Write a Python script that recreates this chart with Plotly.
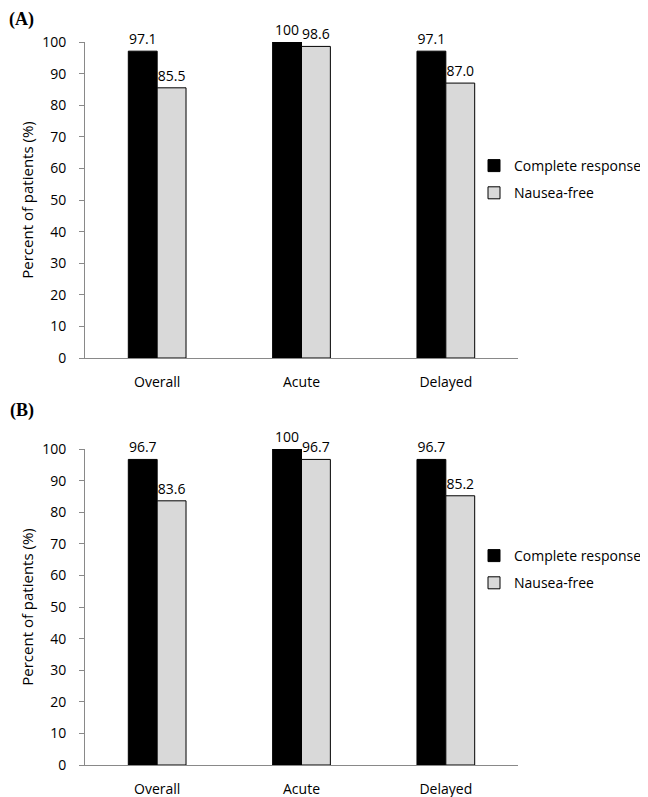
import plotly.graph_objects as go

categories = ["Overall", "Acute", "Delayed"]
a_complete = [97.1, 100, 97.1]
a_nausea_free = [85.5, 98.6, 87.0]
b_complete = [96.7, 100, 96.7]
b_nausea_free = [83.6, 96.7, 85.2]
y_ticks = [0, 10, 20, 30, 40, 50, 60, 70, 80, 90, 100]

FONT = "Open Sans"
FS = 14


def lbl(vals):
    return ["100" if v == 100 else f"{v:.1f}" for v in vals]


fig = go.Figure()

panels = [
    ("x", "y", "legend", a_complete, a_nausea_free),
    ("x2", "y2", "legend2", b_complete, b_nausea_free),
]
for xa, ya, lg, cr, nf in panels:
    fig.add_trace(go.Bar(
        x=categories, y=cr, name="Complete response", xaxis=xa, yaxis=ya,
        marker=dict(color="#000000", line=dict(color="#000000", width=1)),
        text=lbl(cr), textposition="outside", cliponaxis=False,
        textfont=dict(family=FONT, size=FS, color="#000"),
        legend=lg, legendgroup=lg + "cr",
    ))
    fig.add_trace(go.Bar(
        x=categories, y=nf, name="Nausea-free", xaxis=xa, yaxis=ya,
        marker=dict(color="#d9d9d9", line=dict(color="#000000", width=1)),
        text=lbl(nf), textposition="outside", cliponaxis=False,
        textfont=dict(family=FONT, size=FS, color="#000"),
        legend=lg, legendgroup=lg + "nf",
    ))

# page has an 8px body margin; figure drawn 8px smaller and offset
OFF = 8
W = 648.0 - OFF
H = 797.0 - OFF


def px(xp):
    return (xp - OFF) / W


def py(yp):
    return 1 - (yp - OFF) / H


xdom = [px(85), px(518)]
ydomA = [py(358), py(42)]
ydomB = [py(765), py(449)]

xcommon = dict(showline=True, linecolor="#898989", linewidth=1, ticks="",
               tickfont=dict(family=FONT, size=FS, color="#000"),
               ticklabelstandoff=11, showgrid=False, zeroline=False,
               domain=xdom, fixedrange=True)
ycommon = dict(range=[0, 100], tickvals=y_ticks, showline=True, linecolor="#898989",
               linewidth=1, ticks="outside", ticklen=5, tickcolor="#898989",
               tickfont=dict(family=FONT, size=FS, color="#000"),
               ticklabelstandoff=10, showgrid=False, zeroline=False,
               title=dict(text="Percent of patients (%)",
                          font=dict(family=FONT, size=15, color="#000"), standoff=4))

fig.update_layout(
    width=int(W), height=int(H),
    margin=dict(l=0, r=0, t=0, b=0, autoexpand=False),
    paper_bgcolor="white", plot_bgcolor="white",
    barmode="group", bargap=0.6, bargroupgap=0,
    xaxis=dict(anchor="y", **xcommon),
    xaxis2=dict(anchor="y2", **xcommon),
    yaxis=dict(anchor="x", domain=ydomA, **ycommon),
    yaxis2=dict(anchor="x2", domain=ydomB, **ycommon),
    legend=dict(x=px(474), y=py(150), xanchor="left", yanchor="top",
                font=dict(family=FONT, size=FS, color="#000"),
                tracegroupgap=6, bgcolor="rgba(0,0,0,0)"),
    legend2=dict(x=px(474), y=py(540), xanchor="left", yanchor="top",
                 font=dict(family=FONT, size=FS, color="#000"),
                 tracegroupgap=6, bgcolor="rgba(0,0,0,0)"),
    annotations=[
        dict(text="<b>(A)</b>", x=0, y=1, xref="paper", yref="paper",
             xanchor="left", yanchor="top", showarrow=False, borderpad=0,
             font=dict(family="Liberation Serif", size=18, color="#000")),
        dict(text="<b>(B)</b>", x=0, y=py(411), xref="paper", yref="paper",
             xanchor="left", yanchor="middle", showarrow=False,
             font=dict(family="Liberation Serif", size=18, color="#000")),
    ],
)

fig.write_html("out.html")
